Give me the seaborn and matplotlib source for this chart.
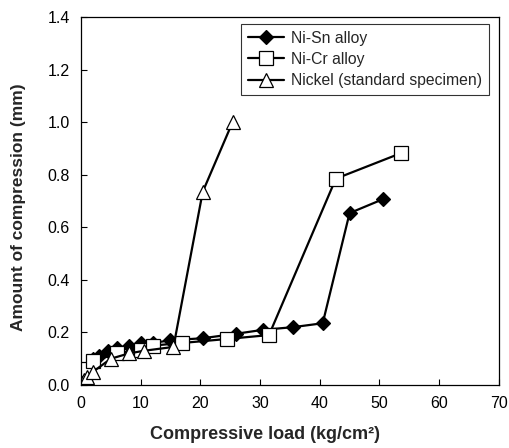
import matplotlib
matplotlib.use("Agg")
import matplotlib.pyplot as plt
import seaborn as sns
import pandas as pd

sns.set_theme(style="ticks")
plt.rcParams['font.family'] = ['Liberation Sans', 'DejaVu Sans']

# Ni-Sn alloy (filled diamonds)
sn_load = [0, 0.3, 0.6, 1, 2, 3, 4.5, 6, 8, 10, 12, 15, 20.4, 26, 30.5, 35.5, 40.5, 45, 50.6]
sn_comp = [0, 0.02, 0.04, 0.06, 0.10, 0.11, 0.13, 0.14, 0.15, 0.16, 0.16, 0.17, 0.178, 0.195, 0.21, 0.22, 0.235, 0.654, 0.707]

# Ni-Cr alloy (open squares)
cr_load = [0, 0.3, 0.6, 1, 2, 6, 10, 12, 17, 24.4, 31.5, 42.7, 53.6]
cr_comp = [0, 0.02, 0.04, 0.06, 0.09, 0.12, 0.135, 0.15, 0.16, 0.175, 0.19, 0.785, 0.882]

# Nickel standard specimen (open triangles)
ni_load = [0, 0.5, 1, 2, 5, 8, 10.5, 15.5, 20.4, 25.4]
ni_comp = [0, 0.02, 0.03, 0.05, 0.10, 0.12, 0.13, 0.145, 0.735, 1.0]

series = [
    ("Ni-Sn alloy", sn_load, sn_comp, "D", "black", 7.5),
    ("Ni-Cr alloy", cr_load, cr_comp, "s", "white", 9.5),
    ("Nickel (standard specimen)", ni_load, ni_comp, "^", "white", 10),
]

fig = plt.figure(figsize=(5.09, 4.48), dpi=100)
ax = fig.add_axes([0.159, 0.1406, 0.821, 0.8214])

for name, xs, ys, mk, fc, ms in series:
    df = pd.DataFrame({"load": xs, "comp": ys})
    sns.lineplot(x="load", y="comp", data=df, sort=False, ax=ax, color="black",
                 linewidth=1.6, marker=mk, markersize=ms, markerfacecolor=fc,
                 markeredgecolor="black", markeredgewidth=0.9, label=name)

ax.set_xlim(0, 70)
ax.set_ylim(0, 1.4)
ax.set_xticks(range(0, 71, 10))
ax.set_yticks([0, 0.2, 0.4, 0.6, 0.8, 1.0, 1.2, 1.4])
ax.set_yticklabels(["0.0", "0.2", "0.4", "0.6", "0.8", "1.0", "1.2", "1.4"])
ax.tick_params(direction="in", length=4, width=0.8, labelsize=11.5, colors="black", pad=8)
for s in ax.spines.values():
    s.set_color("black")
    s.set_linewidth(0.9)

ax.set_xlabel("Compressive load (kg/cm²)", fontsize=13, fontweight="bold")
ax.xaxis.set_label_coords(0.44, -0.112)
ax.set_ylabel("Amount of compression (mm)", fontsize=12.5, fontweight="bold")
ax.yaxis.set_label_coords(-0.132, 0.484)

leg = ax.legend(loc="upper right", bbox_to_anchor=(0.976, 0.982), frameon=True, fancybox=False,
                edgecolor="black", fontsize=11.3, handlelength=2.3, borderpad=0.45,
                labelspacing=0.4, handletextpad=0.4, borderaxespad=0)
leg.get_frame().set_linewidth(0.8)

plt.savefig("out.png", dpi=100)
